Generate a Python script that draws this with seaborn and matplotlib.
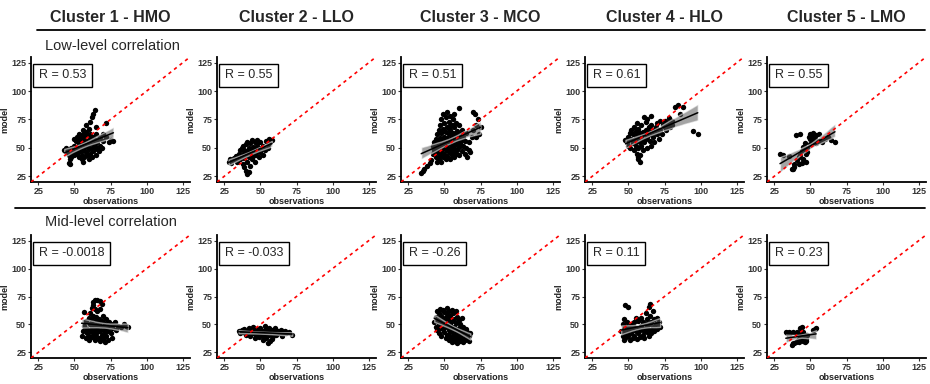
import numpy as np
import pandas as pd
import matplotlib
matplotlib.use('Agg')
import matplotlib.pyplot as plt
import seaborn as sns

sns.set_style('ticks')
plt.rcParams['font.family'] = ['Liberation Sans', 'DejaVu Sans']

clusters = ['Cluster 1 - HMO', 'Cluster 2 - LLO', 'Cluster 3 - MCO', 'Cluster 4 - HLO', 'Cluster 5 - LMO']
row_titles = ['Low-level correlation', 'Mid-level correlation']
r_low = ['0.53', '0.55', '0.51', '0.61', '0.55']
r_mid = ['-0.0018', '-0.033', '-0.26', '0.11', '0.23']
ticks = [25, 50, 75, 100, 125]

##### low-level correlation, observations (x) vs model (y)
hmo_low_x = [43, 44, 45, 46, 46, 47, 47, 48, 48, 49,
             50, 50, 51, 51, 52, 52, 52, 53, 53, 53,
             54, 54, 54, 55, 55, 55, 55, 56, 56, 56,
             57, 57, 57, 57, 58, 58, 58, 59, 59, 59,
             60, 60, 60, 60, 61, 61, 61, 61, 62, 62,
             62, 62, 63, 63, 63, 64, 64, 64, 65, 65,
             66, 66, 67, 67, 68, 68, 69, 70, 72, 75,
             77, 74, 70, 72, 65, 58, 50, 48, 56, 63]
hmo_low_y = [48, 50, 46, 44, 37, 36, 40, 42, 50, 47,
             52, 44, 48, 56, 45, 50, 60, 42, 54, 62,
             47, 51, 58, 40, 44, 53, 61, 48, 55, 66,
             42, 50, 59, 63, 46, 52, 70, 44, 56, 61,
             40, 49, 53, 67, 45, 58, 62, 73, 42, 50,
             55, 77, 47, 60, 80, 52, 57, 83, 44, 62,
             49, 55, 58, 47, 52, 60, 50, 56, 72, 57,
             56, 55, 62, 60, 68, 64, 58, 45, 38, 54]

llo_low_x = [28, 29, 30, 31, 32, 33, 33, 34, 35, 35,
             36, 36, 37, 37, 38, 38, 38, 39, 39, 39,
             40, 40, 40, 41, 41, 41, 41, 42, 42, 42,
             43, 43, 43, 44, 44, 44, 45, 45, 46, 46,
             46, 47, 47, 48, 48, 48, 49, 49, 50, 50,
             51, 52, 52, 53, 54, 55, 55, 56, 57, 58]
llo_low_y = [38, 40, 37, 39, 41, 40, 43, 38, 42, 45,
             40, 48, 43, 50, 36, 45, 52, 33, 41, 48,
             30, 44, 53, 27, 38, 47, 55, 29, 42, 50,
             34, 45, 54, 40, 48, 57, 43, 51, 38, 46,
             55, 44, 50, 47, 53, 57, 42, 50, 46, 55,
             49, 52, 44, 48, 56, 53, 50, 58, 55, 57]

mco_low_x = [34, 35, 36, 38, 40, 41, 42, 42, 43, 43,
             44, 44, 44, 45, 45, 45, 45, 46, 46, 46,
             46, 47, 47, 47, 47, 48, 48, 48, 48, 48,
             49, 49, 49, 49, 49, 50, 50, 50, 50, 51,
             51, 51, 51, 51, 52, 52, 52, 52, 52, 53,
             53, 53, 53, 54, 54, 54, 54, 54, 55, 55,
             55, 55, 56, 56, 56, 56, 57, 57, 57, 57,
             57, 58, 58, 58, 58, 59, 59, 59, 60, 60,
             60, 60, 60, 61, 61, 62, 62, 62, 63, 63,
             64, 64, 65, 65, 66, 67, 67, 68, 69, 70,
             70, 71, 72, 72, 74, 75, 73, 53, 56, 50]
mco_low_y = [28, 30, 31, 34, 37, 39, 45, 52, 48, 55,
             42, 50, 58, 38, 46, 53, 62, 40, 48, 56,
             66, 44, 51, 59, 70, 38, 47, 54, 63, 75,
             42, 50, 57, 67, 80, 45, 53, 60, 72, 40,
             48, 56, 64, 77, 43, 51, 59, 68, 82, 46,
             54, 62, 73, 40, 49, 57, 66, 78, 44, 52,
             60, 70, 47, 55, 63, 75, 42, 50, 58, 68,
             80, 45, 53, 62, 72, 48, 56, 65, 44, 51,
             59, 70, 85, 54, 62, 47, 57, 66, 52, 60,
             45, 56, 50, 63, 42, 55, 48, 46, 60, 66,
             82, 80, 60, 70, 62, 68, 75, 68, 70, 65]

hlo_low_x = [48, 49, 50, 50, 51, 51, 52, 52, 53, 53,
             54, 54, 54, 55, 55, 55, 56, 56, 56, 56,
             57, 57, 57, 57, 57, 58, 58, 58, 58, 59,
             59, 59, 60, 60, 60, 61, 61, 62, 62, 62,
             63, 63, 64, 64, 65, 65, 66, 66, 67, 67,
             68, 68, 69, 70, 70, 71, 72, 72, 73, 74,
             75, 75, 76, 76, 77, 78, 79, 80, 82, 84,
             86, 88, 95, 98, 66, 63, 61, 78, 80, 70]
hlo_low_y = [57, 55, 60, 52, 63, 50, 58, 66, 54, 62,
             48, 57, 68, 52, 60, 65, 45, 56, 62, 72,
             40, 42, 50, 58, 67, 38, 44, 55, 63, 60,
             52, 70, 57, 64, 48, 62, 55, 66, 58, 73,
             60, 50, 64, 68, 56, 62, 70, 52, 60, 66,
             64, 55, 68, 62, 72, 58, 66, 74, 62, 70,
             68, 74, 66, 72, 70, 72, 68, 74, 86, 88,
             80, 86, 65, 62, 78, 75, 77, 76, 70, 66]

lmo_low_x = [29, 31, 35, 37, 38, 39, 39, 40, 42, 42,
             43, 43, 44, 44, 45, 45, 46, 46, 47, 48,
             48, 49, 50, 50, 50, 51, 52, 52, 53, 54,
             54, 56, 56, 58, 60, 62, 64, 67, 47, 41]
lmo_low_y = [45, 44, 43, 31, 31, 33, 36, 61, 36, 42,
             62, 44, 47, 37, 51, 40, 48, 54, 45, 46,
             50, 60, 58, 62, 53, 60, 63, 55, 58, 61,
             54, 62, 56, 55, 58, 60, 57, 55, 38, 39]

##### mid-level correlation
hmo_mid_x = [55, 56, 57, 57, 58, 58, 59, 59, 60, 60,
             61, 61, 61, 62, 62, 62, 62, 63, 63, 63,
             63, 64, 64, 64, 64, 65, 65, 65, 66, 66,
             66, 66, 67, 67, 67, 68, 68, 68, 68, 69,
             69, 69, 69, 70, 70, 70, 71, 71, 71, 72,
             72, 72, 73, 73, 74, 74, 75, 76, 76, 77,
             78, 79, 80, 82, 84, 86, 87, 60, 63, 64]
hmo_mid_y = [40, 44, 61, 49, 38, 53, 46, 42, 56, 36,
             50, 44, 60, 39, 47, 54, 65, 42, 51, 58,
             70, 36, 45, 49, 72, 40, 53, 57, 43, 47,
             72, 62, 38, 50, 55, 35, 44, 71, 64, 41,
             48, 53, 68, 37, 46, 58, 43, 50, 34, 40,
             47, 55, 44, 36, 49, 52, 42, 47, 38, 50,
             52, 45, 49, 48, 50, 49, 48, 40, 67, 64]

llo_mid_x = [35, 36, 37, 38, 39, 40, 41, 42, 43, 43,
             44, 45, 45, 46, 46, 47, 47, 48, 49, 49,
             50, 50, 51, 52, 52, 53, 53, 54, 54, 55,
             56, 56, 57, 57, 58, 59, 60, 60, 61, 62,
             63, 64, 65, 66, 67, 68, 70, 72, 55, 58]
llo_mid_y = [44, 42, 45, 43, 46, 41, 44, 47, 40, 43,
             45, 42, 48, 38, 44, 41, 46, 43, 39, 45,
             42, 47, 44, 36, 40, 45, 49, 42, 38, 44,
             41, 47, 43, 35, 45, 40, 43, 47, 41, 44,
             42, 45, 40, 43, 44, 42, 43, 41, 33, 37]

mco_mid_x = [43, 44, 44, 45, 45, 45, 46, 46, 46, 47,
             47, 47, 48, 48, 48, 49, 49, 49, 50, 50,
             50, 51, 51, 51, 52, 52, 52, 52, 53, 53,
             53, 53, 54, 54, 54, 54, 55, 55, 55, 55,
             56, 56, 56, 56, 57, 57, 57, 57, 58, 58,
             58, 58, 59, 59, 59, 59, 60, 60, 60, 60,
             61, 61, 61, 62, 62, 62, 63, 63, 63, 64,
             64, 64, 65, 65, 65, 66, 66, 67, 67, 68]
mco_mid_y = [52, 57, 48, 62, 54, 45, 60, 50, 42, 64,
             56, 47, 58, 52, 40, 63, 55, 46, 61, 50,
             43, 57, 53, 38, 65, 60, 48, 41, 62, 55,
             45, 36, 58, 50, 43, 39, 63, 53, 47, 34,
             60, 44, 40, 37, 55, 48, 42, 35, 62, 51,
             45, 38, 57, 41, 36, 33, 54, 47, 43, 39,
             50, 40, 35, 56, 45, 37, 48, 42, 34, 44,
             39, 36, 46, 41, 37, 43, 38, 40, 35, 42]

hlo_mid_x = [45, 46, 46, 47, 47, 47, 48, 48, 48, 49,
             49, 50, 50, 50, 51, 51, 52, 52, 53, 53,
             54, 54, 54, 55, 55, 56, 56, 57, 57, 58,
             58, 59, 59, 60, 60, 60, 61, 61, 62, 62,
             63, 63, 63, 64, 64, 64, 65, 65, 65, 66,
             66, 67, 67, 68, 68, 69, 70, 70, 71, 72]
hlo_mid_y = [44, 40, 50, 36, 46, 55, 42, 67, 38, 48,
             52, 44, 66, 40, 47, 36, 50, 42, 45, 38,
             52, 48, 40, 44, 56, 37, 47, 42, 53, 45,
             39, 49, 56, 41, 46, 52, 38, 44, 50, 60,
             43, 47, 55, 40, 50, 66, 45, 58, 68, 42,
             52, 48, 62, 44, 55, 50, 46, 56, 52, 48]

lmo_mid_x = [33, 34, 35, 36, 38, 40, 41, 42, 43, 44,
             44, 45, 37, 38, 39, 40, 41, 42, 43, 44,
             45, 46, 47, 42, 44, 45, 46, 43, 53, 54,
             52, 47, 48, 46]
lmo_mid_y = [43, 42, 43, 42, 43, 42, 43, 42, 47, 48,
             42, 43, 32, 33, 33, 34, 35, 34, 36, 36,
             35, 36, 35, 37, 38, 39, 40, 40, 46, 47,
             45, 37, 41, 34]

rows = [
    [(hmo_low_x, hmo_low_y), (llo_low_x, llo_low_y), (mco_low_x, mco_low_y),
     (hlo_low_x, hlo_low_y), (lmo_low_x, lmo_low_y)],
    [(hmo_mid_x, hmo_mid_y), (llo_mid_x, llo_mid_y), (mco_mid_x, mco_mid_y),
     (hlo_mid_x, hlo_mid_y), (lmo_mid_x, lmo_mid_y)],
]
r_labels = [r_low, r_mid]

W, H = 930, 384
fig = plt.figure(figsize=(W / 100, H / 100), dpi=100)

lefts = [31, 217, 401, 585, 767]
panel_w = 159
row_box = [(57, 182), (235, 358)]

for i, row in enumerate(rows):
    top, bot = row_box[i]
    for j, (xs, ys) in enumerate(row):
        ax = fig.add_axes([lefts[j] / W, 1 - bot / H, panel_w / W, (bot - top) / H])
        df = pd.DataFrame({'observations': xs, 'model': ys})
        sns.regplot(data=df, x='observations', y='model', ax=ax, ci=95,
                    scatter_kws=dict(s=15, color='black', linewidths=0, alpha=1),
                    line_kws=dict(color='black', lw=1.1))
        for coll in ax.collections[1:]:
            coll.set_facecolor((0.35, 0.35, 0.35))
            coll.set_alpha(0.55)
        ax.plot([20, 130], [20, 130], color='red', ls=(0, (2, 2.2)), lw=1.2, zorder=6)
        ax.set_xlim(20, 130)
        ax.set_ylim(20, 130)
        ax.set_xticks(ticks)
        ax.set_yticks(ticks)
        ax.tick_params(labelsize=6.5, length=2.5, width=0.8, pad=1, colors='#333333')
        for lab in ax.get_xticklabels() + ax.get_yticklabels():
            lab.set_fontweight('bold')
        ax.set_xlabel('observations', fontsize=6.5, fontweight='bold', labelpad=0.5, color='#222222')
        ax.set_ylabel('model', fontsize=6.5, fontweight='bold', labelpad=1, color='#222222')
        for side in ['top', 'right']:
            ax.spines[side].set_visible(False)
        for side in ['left', 'bottom']:
            ax.spines[side].set_linewidth(1.3)
            ax.spines[side].set_color('black')
        ax.text(0.05, 0.9, 'R = ' + r_labels[i][j], transform=ax.transAxes,
                ha='left', va='top', fontsize=9, zorder=10,
                bbox=dict(boxstyle='square,pad=0.45', fc='white', ec='black', lw=1))
        if i == 0:
            fig.text((lefts[j] + panel_w / 2) / W, 1 - 18 / H, clusters[j],
                     ha='center', va='center', fontsize=11.5, fontweight='bold')

fig.text(45 / W, 1 - 46 / H, row_titles[0], ha='left', va='center', fontsize=10.5)
fig.text(45 / W, 1 - 222 / H, row_titles[1], ha='left', va='center', fontsize=10.5)
fig.add_artist(plt.Line2D([37 / W, 0.995], [1 - 30 / H] * 2, color='black', lw=1.3))
fig.add_artist(plt.Line2D([15 / W, 0.995], [1 - 208 / H] * 2, color='black', lw=1.3))

fig.savefig('out.png', dpi=100)
